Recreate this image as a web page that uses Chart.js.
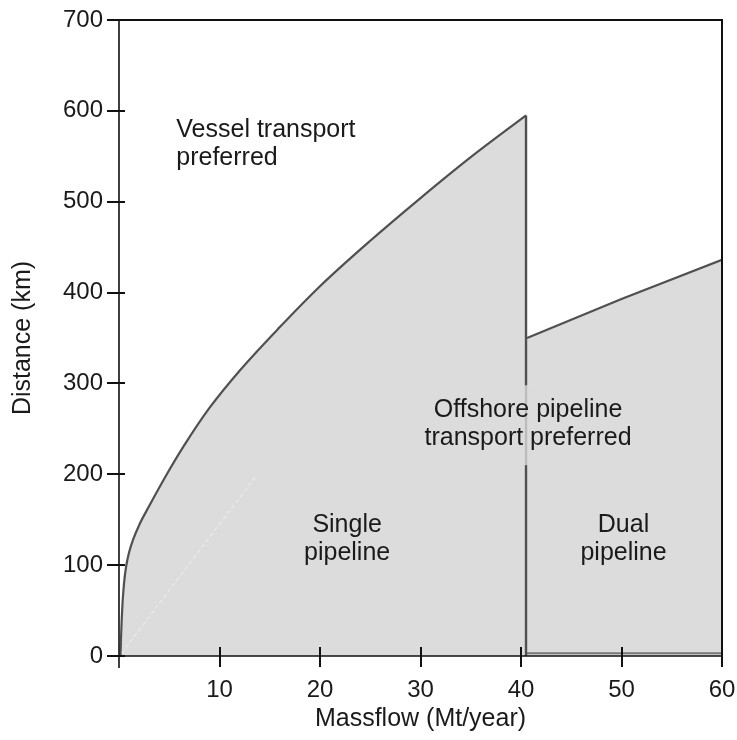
<!DOCTYPE html>
<html>
<head>
<meta charset="utf-8">
<script src="https://cdn.jsdelivr.net/npm/chart.js@4/dist/chart.umd.min.js"></script>
<style>
  html, body { margin: 0; padding: 0; background: #fff; }
  #wrap { width: 737px; height: 740px; }
</style>
</head>
<body>
<div id="wrap"><canvas id="c"></canvas></div>
<script>
// Single-pipeline break-even curve (massflow Mt/year -> distance km)
const singleMassflow = [0.15, 0.2, 0.27, 0.36, 0.5, 0.7, 1.0, 1.4, 2, 3, 4.6, 6.5, 9, 12, 16, 20, 25, 30, 35, 40.5];
const singleDistance = [0, 20, 40, 60, 80, 98, 114, 128, 144, 165, 197, 232, 273, 314, 362, 407, 457, 504, 549, 595];

// Dual-pipeline break-even line
const dualMassflow = [40.6, 50, 60];
const dualDistance = [350, 393, 436];

// Switch from single to dual pipeline
const switchMassflow = 40.5;

// Axis ticks
const xTicks = [0, 10, 20, 30, 40, 50, 60];
const yTicks = [0, 100, 200, 300, 400, 500, 600, 700];

// Region labels
const vesselLabel = ['Vessel transport', 'preferred'];
const offshoreLabel = ['Offshore pipeline', 'transport preferred'];
const singleLabel = ['Single', 'pipeline'];
const dualLabel = ['Dual', 'pipeline'];

const FONT = '"Liberation Sans", Arial, Helvetica, sans-serif';
const FILL = '#dcdcdc';
const EDGE = '#505050';

const pts = (xs, ys) => xs.map((x, i) => ({ x, y: ys[i] }));

const decor = {
  id: 'decor',
  afterDatasetsDraw(chart) {
    const { ctx, scales: { x, y } } = chart;
    ctx.save();
    // soft panel behind the centre label
    ctx.fillStyle = 'rgba(220,220,220,0.78)';
    ctx.fillRect(x.getPixelForValue(39.5), y.getPixelForValue(298), x.getPixelForValue(41.5) - x.getPixelForValue(39.5), y.getPixelForValue(210) - y.getPixelForValue(298));
    ctx.fillStyle = '#1a1a1a';
    ctx.font = '25px ' + FONT;
    ctx.textBaseline = 'middle';
    const put = (lines, vx, vy, align) => {
      ctx.textAlign = align;
      const px = x.getPixelForValue(vx);
      const py = y.getPixelForValue(vy);
      lines.forEach((t, i) => ctx.fillText(t, px, py + i * 28));
    };
    put(vesselLabel, 5.7, 579, 'left');
    put(offshoreLabel, 40.7, 271, 'center');
    put(singleLabel, 22.7, 144, 'center');
    put(dualLabel, 50.2, 144, 'center');
    ctx.restore();
  },
  afterDraw(chart) {
    const { ctx, chartArea: a, scales: { x, y } } = chart;
    ctx.save();
    ctx.strokeStyle = '#111';
    // frame top and right
    ctx.lineWidth = 2;
    ctx.beginPath();
    ctx.moveTo(a.left, a.top);
    ctx.lineTo(a.right, a.top);
    ctx.lineTo(a.right, a.bottom);
    ctx.stroke();
    // axes
    ctx.lineWidth = 1.6;
    ctx.beginPath();
    ctx.moveTo(a.left, a.top);
    ctx.lineTo(a.left, a.bottom + 12);
    ctx.moveTo(a.left - 12, a.bottom);
    ctx.lineTo(a.right, a.bottom);
    ctx.stroke();
    // tick marks crossing the axes
    ctx.lineWidth = 2;
    ctx.beginPath();
    yTicks.forEach(v => {
      const py = Math.round(y.getPixelForValue(v));
      ctx.moveTo(a.left - 12, py);
      ctx.lineTo(a.left + 6, py);
    });
    xTicks.forEach(v => {
      if (v === 0) return;
      const px = Math.round(x.getPixelForValue(v));
      ctx.moveTo(px, a.bottom - 9);
      ctx.lineTo(px, a.bottom + 11);
    });
    ctx.stroke();
    ctx.restore();
  }
};

new Chart(document.getElementById('c'), {
  type: 'line',
  data: {
    datasets: [
      {
        label: 'Single pipeline',
        data: pts(singleMassflow, singleDistance),
        borderColor: EDGE,
        borderWidth: 2.2,
        backgroundColor: FILL,
        fill: 'origin',
        pointRadius: 0,
        cubicInterpolationMode: 'monotone'
      },
      {
        label: 'Dual pipeline',
        data: pts(dualMassflow, dualDistance),
        borderColor: EDGE,
        borderWidth: 2.2,
        backgroundColor: FILL,
        fill: 'origin',
        pointRadius: 0,
        tension: 0
      },
      {
        label: 'Dual outline',
        data: [{ x: 60, y: 436 }, { x: 60, y: 3 }, { x: 40.6, y: 3 }],
        borderColor: '#777',
        borderWidth: 2,
        fill: false,
        pointRadius: 0,
        tension: 0,
        order: -1
      },
      {
        label: 'Switch',
        data: [{ x: switchMassflow, y: 595 }, { x: switchMassflow, y: 0 }],
        borderColor: EDGE,
        borderWidth: 2.4,
        fill: false,
        pointRadius: 0,
        tension: 0,
        order: -2
      },
      {
        label: 'Guide',
        data: [{ x: 0.25, y: 3 }, { x: 13.7, y: 199 }],
        borderColor: 'rgba(255,255,255,0.6)',
        borderWidth: 1,
        borderDash: [4, 3],
        fill: false,
        pointRadius: 0,
        tension: 0,
        order: -1
      }
    ]
  },
  options: {
    responsive: true,
    maintainAspectRatio: false,
    animation: false,
    layout: { padding: { top: 20, right: 15, left: 0, bottom: 0 } },
    plugins: { legend: { display: false }, tooltip: { enabled: false } },
    scales: {
      x: {
        type: 'linear',
        min: 0, max: 60,
        afterBuildTicks: s => { s.ticks = xTicks.map(v => ({ value: v })); },
        afterFit: s => { s.height = 84; s.paddingLeft = 0; s.paddingRight = 0; },
        grid: { display: false, drawTicks: false },
        border: { display: false },
        ticks: {
          padding: 20,
          color: '#1a1a1a',
          font: { family: FONT, size: 24 },
          callback: v => (v === 0 ? '' : v)
        },
        title: {
          display: true,
          text: 'Massflow (Mt/year)',
          color: '#1a1a1a',
          font: { family: FONT, size: 25 },
          padding: { top: 0, bottom: 6 }
        }
      },
      y: {
        type: 'linear',
        min: 0, max: 700,
        afterBuildTicks: s => { s.ticks = yTicks.map(v => ({ value: v })); },
        afterFit: s => { s.width = 119; s.paddingTop = 0; s.paddingBottom = 0; },
        grid: { display: false, drawTicks: false },
        border: { display: false },
        ticks: {
          padding: 16,
          color: '#1a1a1a',
          font: { family: FONT, size: 24 }
        },
        title: {
          display: true,
          text: 'Distance (km)',
          color: '#1a1a1a',
          font: { family: FONT, size: 25 },
          padding: { top: 8, bottom: 0 }
        }
      }
    }
  },
  plugins: [decor]
});
</script>
</body>
</html>
